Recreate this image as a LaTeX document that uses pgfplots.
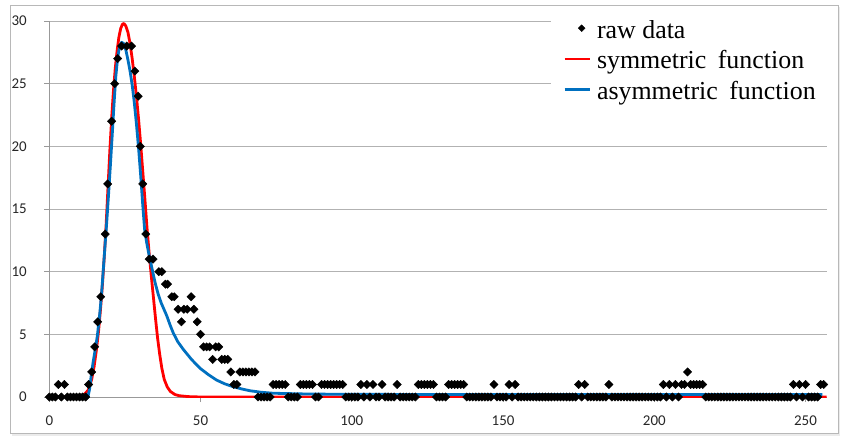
\documentclass[border=0pt]{standalone}
\usepackage{pgfplots}
\pgfplotsset{compat=1.18}
\usepackage{fontspec}
\setmainfont{Liberation Serif}
\newfontfamily\tickfont{Carlito}
\newcommand\legendfont{\fontsize{26}{30.5}\selectfont}
\newcommand\lstrut{\rule[-9.15bp]{0pt}{30.5bp}}
\definecolor{xlblue}{RGB}{0,112,192}
\pgfplotsset{
  linelegend/.style={legend image code/.code={\draw[##1] (0bp,0bp) -- (25bp,0bp);}},
  marklegend/.style={legend image code/.code={\path (0bp,0bp) coordinate (la) (25bp,0bp) coordinate (lb);
    \draw[##1, mark size=2.4bp] plot coordinates {(17bp,0bp)};}},
}
\begin{document}
\begin{tikzpicture}
\path[use as bounding box] (-49.3bp,-40bp) rectangle (795.7bp,397bp);
\fill[black!8] (-37bp,-38.5bp) rectangle (791bp,389.5bp);
\fill[white] (-39.3bp,-36bp) rectangle (788.7bp,392bp);
\draw[black!28, line width=0.8bp] (-39.3bp,-36bp) rectangle (788.7bp,392bp);
\begin{axis}[
  at={(0,0)}, anchor=south west, scale only axis,
  width=777.4bp, height=376bp,
  xmin=0, xmax=257, ymin=0, ymax=30,
  axis lines*=left,
  axis line style={black!40, line width=0.8bp},
  xtick={0,50,...,250}, ytick={0,5,...,30},
  ymajorgrids, grid style={black!30, line width=0.8bp},
  tick align=outside, major tick length=5bp,
  tick style={black!40, line width=0.8bp},
  tick label style={font=\tickfont\fontsize{15}{17}\selectfont, text=black!85},
  yticklabel style={xshift=-14bp},
  xticklabel style={yshift=-10bp},
  /pgf/number format/assume math mode=true,
  legend style={at={(axis description cs:0.6454,1.0277)}, anchor=north west,
    fill=white, draw=none, inner xsep=12bp, inner ysep=4bp,
    font=\legendfont, column sep=4bp, row sep=4bp,
    cells={anchor=west, inner sep=0bp}},
]
\addplot[only marks, mark=square*, mark size=2.95bp,
  mark options={rotate=45, fill=black, draw=black}, marklegend]
coordinates {
(0,0)(1,0)(2,0)(3,1)(4,0)(5,1)(6,0)(7,0)(8,0)(9,0)(10,0)(11,0)(12,0)
(13,1)(14,2)(15,4)(16,6)(17,8)(18.5,13)(19.3,17)(20.6,22)(21.6,25)(22.6,27)
(23.9,28)(25.6,28)(27.2,28)(28.3,26)(29.4,24)(30.1,20)(30.9,17)(31.9,13)
(33,11)(34.3,11)(36.2,10)(37.2,10)(38.4,9)(39.1,9)(40.5,8)(41.3,8)(42.6,7)
(43.7,6)(44.5,7)(45.6,7)(46.9,8)(47.8,7)(48.9,6)(50,5)(51,4)(52,4)(53,4)
(54,3)(55,4)(56,4)(57,3)(58,3)(59,3)(60,2)(61,1)(62,1)(63,2)(64,2)(65,2)
(66,2)(67,2)(68,2)(69,0)(70,0)(71,0)(72,0)(73,0)(74,1)(75,1)(76,1)(77,1)
(78,1)(79,0)(80,0)(81,0)(82,0)(83,1)(84,1)(85,1)(86,1)(87,1)(88,0)(89,0)
(90,1)(91,1)(92,1)(93,1)(94,1)(95,1)(96,1)(97,1)(98,0)(99,0)(100,0)(101,0)
(102,0)(103,1)(104,0)(105,1)(106,0)(107,1)(108,0)(109,0)(110,1)(111,0)
(112,0)(113,0)(114,0)(115,1)(116,0)(117,0)(118,0)(119,0)(120,0)(121,0)
(122,1)(123,1)(124,1)(125,1)(126,1)(127,1)(128,0)(129,0)(130,0)(131,0)
(132,1)(133,1)(134,1)(135,1)(136,1)(137,1)(138,0)(139,0)(140,0)(141,0)
(142,0)(143,0)(144,0)(145,0)(146,0)(147,1)(148,0)(149,0)(150,0)(151,0)
(152,1)(153,0)(154,1)(155,0)(156,0)(157,0)(158,0)(159,0)(160,0)(161,0)
(162,0)(163,0)(164,0)(165,0)(166,0)(167,0)(168,0)(169,0)(170,0)(171,0)
(172,0)(173,0)(174,0)(175,1)(176,0)(177,1)(178,0)(179,0)(180,0)(181,0)
(182,0)(183,0)(184,0)(185,1)(186,0)(187,0)(188,0)(189,0)(190,0)(191,0)
(192,0)(193,0)(194,0)(195,0)(196,0)(197,0)(198,0)(199,0)(200,0)(201,0)
(202,0)(203,1)(204,0)(205,1)(206,0)(207,1)(208,0)(209,1)(210,1)(211,2)
(212,1)(213,1)(214,1)(215,1)(216,1)(217,0)(218,0)(219,0)(220,0)(221,0)
(222,0)(223,0)(224,0)(225,0)(226,0)(227,0)(228,0)(229,0)(230,0)(231,0)
(232,0)(233,0)(234,0)(235,0)(236,0)(237,0)(238,0)(239,0)(240,0)(241,0)
(242,0)(243,0)(244,0)(245,0)(246,1)(247,0)(248,1)(249,0)(250,1)(251,0)
(252,0)(253,0)(254,0)(255,1)(256,1)
};
\addlegendentry{raw data\lstrut}
\addplot[red, line width=2.8bp, line join=round, linelegend]
coordinates {
(0,0)(8,0.02)(10,0.08)(11.5,0.2)(12.9,0.55)(14,1.4)(14.8,2.4)(15.6,3.8)
(16.3,5.3)(17,7.2)(17.6,9.1)(18.2,11.3)(18.8,13.8)(19.4,16.7)(20,19.6)
(20.6,22.2)(21.2,24.4)(21.8,26.2)(22.4,27.6)(23,28.7)(23.6,29.4)(24.2,29.75)
(24.7,29.8)(25.3,29.6)(26,29.1)(26.7,28.2)(27.4,27.0)(28.1,25.6)(28.8,24.0)
(29.5,22.2)(30.2,20.2)(30.9,18.0)(31.6,15.8)(32.3,13.5)(33,11.5)(33.7,9.7)
(34.4,8.0)(35.1,6.3)(35.8,4.7)(36.5,3.4)(37.2,2.3)(38,1.4)(39,0.8)(40,0.45)
(41.5,0.2)(43,0.1)(46,0.03)(50,0)(257,0)
};
\addlegendentry{symmetric\hspace{5bp} function\lstrut}
\addplot[xlblue, line width=2.8bp, line join=round, linelegend]
coordinates {
(0,0)(10,0)(12.8,0.05)(13.3,0.6)(13.8,1.6)(14.5,2.8)(15.2,3.8)(15.9,4.9)
(16.7,6.7)(17.3,8.3)(17.8,10)(18.4,12)(19,14)(19.6,16.2)(20.2,18.5)
(20.8,20.9)(21.4,23.4)(22,25.6)(22.6,27.1)(23.2,27.9)(23.9,28.3)(24.6,28.2)
(25.3,27.7)(26,26.9)(26.7,26)(27.4,24.9)(28.1,23.5)(28.8,21.8)(29.5,19.9)
(30.2,17.7)(30.9,15.3)(31.5,13.4)(32.2,12.3)(33,11.3)(34,10.2)(35,9.1)
(36,8.2)(37,7.5)(38.8,6.5)(40,5.7)(41,5.1)(42.5,4.4)(44.3,3.8)(47,3.0)
(49.8,2.3)(52.5,1.8)(55.3,1.35)(58,1.05)(60.8,0.82)(63.5,0.65)(66.3,0.5)
(70,0.38)(74,0.3)(85,0.24)(100,0.21)(150,0.2)(200,0.2)(255.6,0.2)
};
\addlegendentry{asymmetric\hspace{5bp} function\lstrut}
\end{axis}
\end{tikzpicture}
\end{document}
